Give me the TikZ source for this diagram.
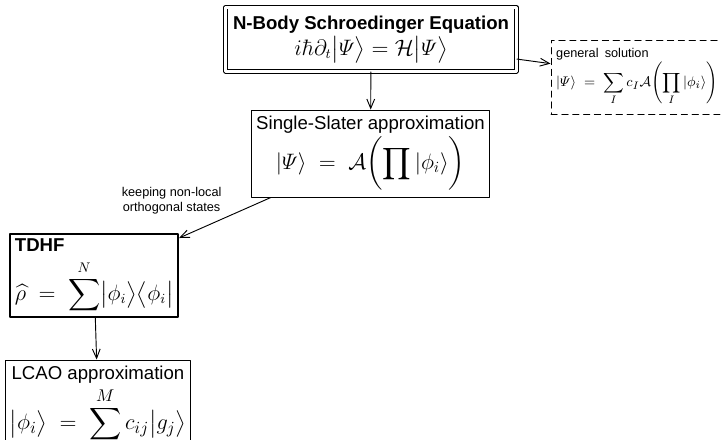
\documentclass[tikz,border=0pt]{standalone}
\usepackage{amsmath}
\usepackage[no-math]{fontspec}
\setmainfont{Liberation Sans}
\usetikzlibrary{arrows.meta}
\newcommand{\smalltxt}{\fontsize{8.2}{9.8}\selectfont}
\newcommand{\mathsz}[1]{\fontsize{#1}{#1}\selectfont}
\newcommand{\ket}[1]{\bigl|#1\bigr\rangle}
\newcommand{\bra}[1]{\bigl\langle#1\bigr|}
\tikzset{
  box/.style={draw, line width=0.6pt, inner sep=3pt, align=center},
  lbl/.style={font=\smalltxt}
}
\begin{document}
\begin{tikzpicture}[x=0.645pt, y=-0.645pt, >={Straight Barb[length=6pt,width=5pt]}, line join=round, line cap=round, font=\fontsize{12}{14.5}\selectfont]
\useasboundingbox (0,0) rectangle (721,440);
\clip (0,0) rectangle (721,440);
% boxes, centres and sizes taken from the layout in px
\node[box, line width=0.55pt, double, double distance=1.5pt, minimum width=187.7pt, minimum height=41.3pt] (eqn) at (371,39.5)
  {{\bfseries N-Body Schroedinger Equation}\\[1pt]
   {\mathsz{13.5}$i\hbar\partial_t\ket{\varPsi} = \mathcal{H}\ket{\varPsi}$}};
\node[box, dash pattern=on 4pt off 3pt, align=left, minimum width=127.7pt, minimum height=47.7pt, text width=121pt] (gen) at (650,77)
  {\smalltxt general solution\\[0pt]
   {\mathsz{9.5}$\displaystyle|\varPsi\rangle \;=\; \sum_I c_I\mathcal{A}\!\left(\prod_I|\phi_i\rangle\right)$}};
\node[box, minimum width=152.9pt, minimum height=56.1pt] (slater) at (370.5,153.5)
  {Single-Slater approximation\\[1pt]
   {\mathsz{14}$\displaystyle|\varPsi\rangle \;=\; \mathcal{A}\biggl(\prod|\phi_i\rangle\biggr)$}};
\node[box, line width=1.3pt, align=left, minimum width=108.4pt, minimum height=52.2pt, text width=102pt] (tdhf) at (94,275.5)
  {{\bfseries TDHF}\\[5pt]
   \mbox{\mathsz{13.5}$\displaystyle\widehat{\rho} \;=\; \sum^N\ket{\phi_i}\bra{\phi_i}$}};
\node[box, minimum width=117.4pt, minimum height=56.8pt] (lcao) at (98,404)
  {LCAO approximation\\[2pt]
   {\mathsz{15}$\displaystyle\ket{\phi_i} \;=\; \sum^M c_{ij}\ket{g_j}$}};
% connectors
\draw[->, line width=0.6pt] (eqn) -- (gen);
\draw[->, line width=0.6pt] (eqn) -- (slater);
\draw[->, line width=0.6pt] (slater) -- (tdhf) node[midway, above left, lbl, align=center, inner sep=2pt] {keeping non-local\\orthogonal states};
\draw[->, line width=0.6pt] (tdhf) -- (lcao);
\end{tikzpicture}
\end{document}
